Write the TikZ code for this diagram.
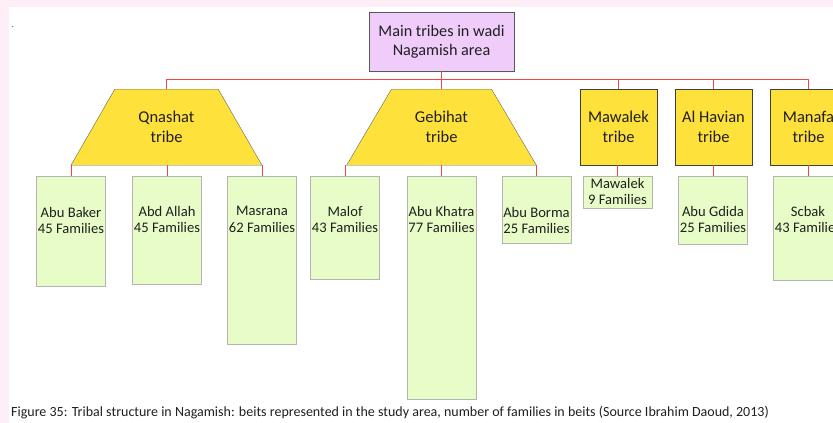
\documentclass[tikz,border=0pt]{standalone}
\usepackage{fontspec}
\setmainfont{Carlito}
\usetikzlibrary{shapes.geometric,positioning}
\definecolor{pinkbg}{HTML}{FDEEF8}
\definecolor{mainfill}{HTML}{F0CCFA}
\definecolor{tribefill}{HTML}{FFE13C}
\definecolor{famfill}{HTML}{E8FCC8}
\definecolor{linkred}{HTML}{F04848}
\definecolor{famborder}{HTML}{B4B4B4}
\definecolor{textgray}{HTML}{202020}
\tikzset{
  mainbox/.style={
    rectangle,
    draw=black!65, fill=mainfill,
    minimum width=145pt, minimum height=59pt,
    inner sep=0pt, align=center, anchor=north,
    font=\fontsize{16.2}{19}\selectfont
  },
  tribe/.style={
    rectangle,
    draw=black!75, fill=tribefill,
    minimum width=77pt, minimum height=76pt,
    inner sep=0pt, align=center, anchor=north,
    font=\fontsize{16.5}{20}\selectfont
  },
  trap/.style={
    trapezium, trapezium stretches=true,
    trapezium left angle=53.1, trapezium right angle=53.1,
    draw=black!60, fill=tribefill,
    minimum width=191pt, minimum height=76pt,
    inner sep=0pt, align=center, anchor=north,
    font=\fontsize{16.5}{20}\selectfont
  },
  fambox/.style={
    rectangle,
    draw=famborder, fill=famfill,
    minimum width=69pt, inner sep=0pt, anchor=north
  },
  famtext/.style={
    align=center, inner sep=0pt,
    font=\fontsize{14.6}{16.8}\selectfont
  },
  link/.style={draw=linkred, line width=0.8pt},
}

\begin{document}
\begin{tikzpicture}[x=1pt,y=-1pt,every node/.style={text=textgray}]

\useasboundingbox (0,0) rectangle (833,423);
\clip (0,0) rectangle (833,423);
\fill[pinkbg] (0,0) rectangle (833,423);
\fill[white] (9,7) rectangle (833,423);
\node[font=\fontsize{8}{8}\selectfont, inner sep=0pt] (DOT) at (13,27) {.};

% root and tribes
\node[mainbox] (MAIN) at (441.5,12) {Main tribes in wadi\\Nagamish area};
\coordinate (BUS) at (0,79);

\node[trap] (QNASHAT) at (166.5,89) {Qnashat\\tribe};
\node[trap] (GEBIHAT) at (441.5,89) {Gebihat\\tribe};
\node[tribe] (MAWALEK) at (618.5,89) {Mawalek\\tribe};
\node[tribe] (ALHAVIAN) at (713.5,89) {Al Havian\\tribe};
\node[tribe] (MANAFA) at (808.5,89) {Manafa\\tribe};

\draw[link] (MAIN.south) -- (MAIN.south |- BUS);
\draw[link] (QNASHAT.north |- BUS) -- (MANAFA.north |- BUS);
\foreach \t in {QNASHAT,GEBIHAT,MAWALEK,ALHAVIAN,MANAFA}
  \draw[link] (\t.north |- BUS) -- (\t.north);

% beits
\node[fambox, minimum height=110pt] (ABUBAKER) at (71,176) {};
\node[fambox, minimum height=108pt] (ABDALLAH) at (167,176) {};
\node[fambox, minimum height=168pt] (MASRANA) at (262,176) {};
\node[fambox, minimum height=103pt] (MALOF) at (345,176) {};
\node[fambox, minimum height=223pt] (ABUKHATRA) at (441.5,176) {};
\node[fambox, minimum height=67pt] (ABUBORMA) at (536.5,176) {};
\node[fambox, minimum height=32pt] (MAWALEKF) at (617.5,176) {};
\node[fambox, minimum height=68pt] (ABUGDIDA) at (713,176) {};
\node[fambox, minimum height=104pt] (SCBAK) at (808,176) {};

\node[famtext] (ABUBAKERT) at (71,220.5) {Abu Baker\\45 Families};
\node[famtext] (ABDALLAHT) at (167,219.5) {Abd Allah\\45 Families};
\node[famtext] (MASRANAT) at (262,219.5) {Masrana\\62 Families};
\node[famtext] (MALOFT) at (345,219.5) {Malof\\43 Families};
\node[famtext] (ABUKHATRAT) at (441.5,219.5) {Abu Khatra\\77 Families};
\node[famtext] (ABUBORMAT) at (536.5,220.5) {Abu Borma\\25 Families};
\node[famtext] (MAWALEKFT) at (617.5,191.5) {Mawalek\\9 Families};
\node[famtext] (ABUGDIDAT) at (713,219.5) {Abu Gdida\\25 Families};
\node[famtext] (SCBAKT) at (808,219.5) {Scbak\\43 Families};

\foreach \f/\t in {ABUBAKER/QNASHAT,ABDALLAH/QNASHAT,MASRANA/QNASHAT,
  MALOF/GEBIHAT,ABUKHATRA/GEBIHAT,ABUBORMA/GEBIHAT,
  MAWALEKF/MAWALEK,ABUGDIDA/ALHAVIAN,SCBAK/MANAFA}
  \draw[link] (\f.north |- \t.south) -- (\f.north);

% caption
\node[anchor=west, inner sep=0pt, font=\fontsize{14}{15}\selectfont] (CAPTION) at (11,413)
  {Figure 35: Tribal structure in Nagamish: beits represented in the study area, number of families in beits (Source Ibrahim Daoud, 2013)};
\end{tikzpicture}
\end{document}
